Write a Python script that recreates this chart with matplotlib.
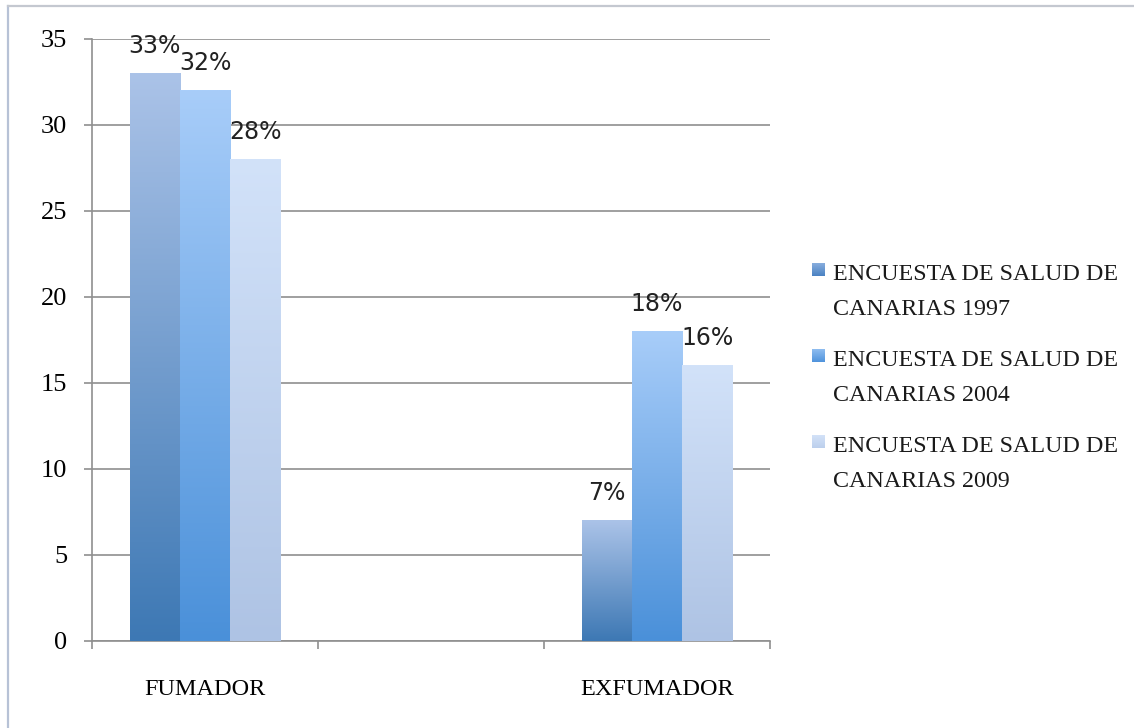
import numpy as np
import matplotlib
matplotlib.use("Agg")
import matplotlib.pyplot as plt
import matplotlib.transforms as mtransforms
from matplotlib.colors import LinearSegmentedColormap
from matplotlib.lines import Line2D

# Smoking status by survey year (percent of population)
categories = ["FUMADOR", "", "EXFUMADOR"]
series_names = [
    "ENCUESTA DE SALUD DE CANARIAS 1997",
    "ENCUESTA DE SALUD DE CANARIAS 2004",
    "ENCUESTA DE SALUD DE CANARIAS 2009",
]
values_1997 = [33, np.nan, 7]
values_2004 = [32, np.nan, 18]
values_2009 = [28, np.nan, 16]
y_ticks = [0, 5, 10, 15, 20, 25, 30, 35]

series_values = [values_1997, values_2004, values_2009]
# (bottom colour, top colour) of each series' vertical gradient
gradients = [
    ("#3d78b4", "#abc3e8"),
    ("#4a90d9", "#a8cdf9"),
    ("#aec3e4", "#d2e2f9"),
]
legend_gradients = [
    ("#4a82c2", "#8db1e0"),
    ("#4f93dc", "#8fbdf0"),
    ("#bccfec", "#d3e2f8"),
]

serif = "Liberation Serif"
W, H = 1134, 728
fig = plt.figure(figsize=(W / 100, H / 100), dpi=100)
ax = fig.add_axes([92 / W, 1 - 640.7 / H, (770 - 92) / W, (640.7 - 38.5) / H])

grid_color = "#8f8f8f"
n_series = len(series_values)
bar_w = 0.222
x = np.arange(len(categories))
grad = np.linspace(0, 1, 256).reshape(-1, 1)

for i, (vals, (c_bot, c_top)) in enumerate(zip(series_values, gradients)):
    offs = (i - (n_series - 1) / 2) * bar_w
    bars = ax.bar(x + offs, np.nan_to_num(vals), width=bar_w,
                  color="none", edgecolor="none", zorder=3)
    cmap = LinearSegmentedColormap.from_list(f"s{i}", [c_bot, c_top])
    for rect, v in zip(bars, vals):
        if np.isnan(v):
            continue
        x0, w, h = rect.get_x(), rect.get_width(), rect.get_height()
        ax.imshow(grad, extent=(x0, x0 + w, 0, h), origin="lower",
                  cmap=cmap, aspect="auto", zorder=3, interpolation="bilinear")
        ax.annotate(f"{v:g}%", (x0 + w / 2, h), xytext=(0, 14.4),
                    textcoords="offset points", ha="center", va="baseline",
                    fontsize=17, family="DejaVu Sans", color="#222222",
                    zorder=5)

ax.set_xlim(-0.5, len(categories) - 0.5)
ax.set_ylim(0, 35)
ax.set_yticks(y_ticks)
ax.set_yticklabels([str(t) for t in y_ticks], family=serif, fontsize=19)
ax.yaxis.grid(True, color=grid_color, linewidth=1.2, zorder=0)
ax.set_axisbelow(True)

# value labels sit slightly below their gridline
shift = mtransforms.ScaledTranslation(0, -3 / 72, fig.dpi_scale_trans)
for lbl in ax.get_yticklabels():
    lbl.set_transform(lbl.get_transform() + shift)

# category boundaries carry tick marks, names sit at the centres
ax.set_xticks(np.arange(len(categories) + 1) - 0.5)
ax.set_xticklabels([])
ax.set_xticks(x, minor=True)
ax.set_xticklabels(categories, minor=True, family=serif, fontsize=17.5)
ax.tick_params(axis="x", which="minor", length=0, pad=27.5)
ax.tick_params(axis="x", which="major", length=6, width=1.2,
               color=grid_color, direction="out")
ax.tick_params(axis="y", length=6, width=1.2, color=grid_color,
               direction="out", pad=12)

for side in ("top", "right"):
    ax.spines[side].set_visible(False)
for side in ("left", "bottom"):
    ax.spines[side].set_color(grid_color)
    ax.spines[side].set_linewidth(1.2)

# legend: gradient squares with two-line labels
entry_tops = [263, 349, 435]
for name, (c_bot, c_top), ty in zip(series_names, legend_gradients, entry_tops):
    sq = fig.add_axes([812 / W, 1 - (ty + 13) / H, 13 / W, 13 / H])
    sq.imshow(grad, origin="lower", aspect="auto",
              cmap=LinearSegmentedColormap.from_list("lg", [c_bot, c_top]),
              extent=(0, 1, 0, 1))
    sq.set_axis_off()
    fig.text(833 / W, 1 - (ty + 1) / H, name.replace(" CANARIAS", "\nCANARIAS"),
             family=serif, fontsize=17.3, va="top", ha="left",
             linespacing=1.86, color="#1a1a1a")

# outer frame (left and top edges)
fig.add_artist(Line2D([8 / W, 8 / W], [0, 1 - 6 / H], transform=fig.transFigure,
                      color="#b7c2d6", linewidth=1.6))
fig.add_artist(Line2D([8 / W, 1], [1 - 6 / H, 1 - 6 / H], transform=fig.transFigure,
                      color="#c4c8d0", linewidth=1.6))

fig.savefig("out.png", dpi=100)
